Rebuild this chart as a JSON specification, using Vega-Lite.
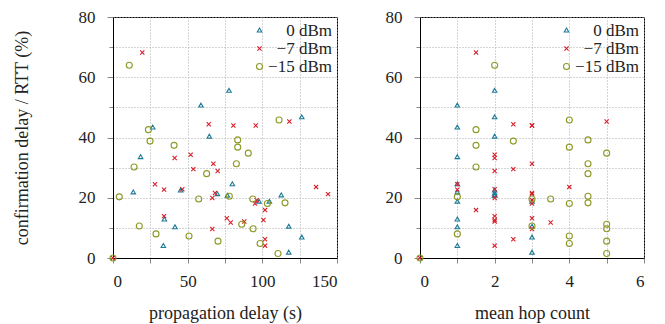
{
  "$schema": "https://vega.github.io/schema/vega-lite/v6.json",
  "padding": {"left": 12, "top": 7, "right": 2, "bottom": 0},
  "background": "white",
  "config": {
    "font": "Liberation Serif",
    "view": {"stroke": "#000", "strokeWidth": 1},
    "axis": {
      "labelFont": "Liberation Serif", "labelFontSize": 17, "labelColor": "#222",
      "titleFont": "Liberation Serif", "titleFontSize": 18, "titleFontWeight": "normal", "titleColor": "#222",
      "domainColor": "#000", "domainWidth": 1,
      "grid": true, "gridColor": "#ababab", "gridDash": [1, 2], "gridWidth": 1, "gridOpacity": 1,
      "tickColor": "#888"
    },
    "legend": {
      "labelFont": "Liberation Serif", "labelFontSize": 17, "labelColor": "#222"
    }
  },
  "datasets": {
    "delay": [
      {"power": "0 dBm", "delay": 58.9, "rtt": 50.6},
      {"power": "0 dBm", "delay": 77.7, "rtt": 55.5},
      {"power": "0 dBm", "delay": 26.6, "rtt": 43.3},
      {"power": "0 dBm", "delay": 64.5, "rtt": 40.3},
      {"power": "0 dBm", "delay": 126.4, "rtt": 46.7},
      {"power": "0 dBm", "delay": 18.5, "rtt": 33.5},
      {"power": "0 dBm", "delay": 13.6, "rtt": 21.8},
      {"power": "0 dBm", "delay": 45.3, "rtt": 22.4},
      {"power": "0 dBm", "delay": 69.9, "rtt": 21.2},
      {"power": "0 dBm", "delay": 34.4, "rtt": 12.8},
      {"power": "0 dBm", "delay": 41.5, "rtt": 10.2},
      {"power": "0 dBm", "delay": 33.7, "rtt": 4.0},
      {"power": "0 dBm", "delay": 79.9, "rtt": 24.5},
      {"power": "0 dBm", "delay": 76.6, "rtt": 20.7},
      {"power": "0 dBm", "delay": 97.8, "rtt": 18.7},
      {"power": "0 dBm", "delay": 104.7, "rtt": 18.7},
      {"power": "0 dBm", "delay": 112.7, "rtt": 20.8},
      {"power": "0 dBm", "delay": 117.7, "rtt": 10.4},
      {"power": "0 dBm", "delay": 126.4, "rtt": 6.8},
      {"power": "0 dBm", "delay": 117.7, "rtt": 1.8},
      {"power": "−7 dBm", "delay": 0, "rtt": 0},
      {"power": "−7 dBm", "delay": 19.6, "rtt": 68.2},
      {"power": "−7 dBm", "delay": 64.1, "rtt": 44.4},
      {"power": "−7 dBm", "delay": 118.1, "rtt": 45.3},
      {"power": "−7 dBm", "delay": 80.6, "rtt": 44.0},
      {"power": "−7 dBm", "delay": 95.6, "rtt": 44.0},
      {"power": "−7 dBm", "delay": 41.3, "rtt": 33.2},
      {"power": "−7 dBm", "delay": 52.0, "rtt": 34.3},
      {"power": "−7 dBm", "delay": 53.8, "rtt": 29.5},
      {"power": "−7 dBm", "delay": 67.2, "rtt": 31.3},
      {"power": "−7 dBm", "delay": 70.1, "rtt": 28.9},
      {"power": "−7 dBm", "delay": 28.1, "rtt": 24.5},
      {"power": "−7 dBm", "delay": 34.2, "rtt": 22.7},
      {"power": "−7 dBm", "delay": 46.4, "rtt": 22.8},
      {"power": "−7 dBm", "delay": 68.3, "rtt": 21.6},
      {"power": "−7 dBm", "delay": 66.5, "rtt": 19.9},
      {"power": "−7 dBm", "delay": 34.2, "rtt": 13.9},
      {"power": "−7 dBm", "delay": 66.5, "rtt": 9.6},
      {"power": "−7 dBm", "delay": 136.0, "rtt": 23.6},
      {"power": "−7 dBm", "delay": 144.0, "rtt": 21.2},
      {"power": "−7 dBm", "delay": 96.2, "rtt": 19.2},
      {"power": "−7 dBm", "delay": 95.1, "rtt": 18.1},
      {"power": "−7 dBm", "delay": 101.8, "rtt": 15.9},
      {"power": "−7 dBm", "delay": 76.2, "rtt": 13.2},
      {"power": "−7 dBm", "delay": 78.8, "rtt": 11.8},
      {"power": "−7 dBm", "delay": 87.9, "rtt": 12.1},
      {"power": "−7 dBm", "delay": 100.7, "rtt": 12.6},
      {"power": "−7 dBm", "delay": 101.8, "rtt": 6.2},
      {"power": "−7 dBm", "delay": 101.8, "rtt": 4.1},
      {"power": "−15 dBm", "delay": 0, "rtt": 0},
      {"power": "−15 dBm", "delay": 10.9, "rtt": 64.0},
      {"power": "−15 dBm", "delay": 23.7, "rtt": 42.6},
      {"power": "−15 dBm", "delay": 24.8, "rtt": 38.8},
      {"power": "−15 dBm", "delay": 40.9, "rtt": 37.4},
      {"power": "−15 dBm", "delay": 111.2, "rtt": 45.8},
      {"power": "−15 dBm", "delay": 83.5, "rtt": 39.2},
      {"power": "−15 dBm", "delay": 83.5, "rtt": 36.8},
      {"power": "−15 dBm", "delay": 90.6, "rtt": 34.8},
      {"power": "−15 dBm", "delay": 82.6, "rtt": 31.3},
      {"power": "−15 dBm", "delay": 14.1, "rtt": 30.2},
      {"power": "−15 dBm", "delay": 62.7, "rtt": 28.0},
      {"power": "−15 dBm", "delay": 4.2, "rtt": 20.3},
      {"power": "−15 dBm", "delay": 57.4, "rtt": 19.6},
      {"power": "−15 dBm", "delay": 77.9, "rtt": 20.5},
      {"power": "−15 dBm", "delay": 93.6, "rtt": 19.6},
      {"power": "−15 dBm", "delay": 103.4, "rtt": 18.1},
      {"power": "−15 dBm", "delay": 115.2, "rtt": 18.3},
      {"power": "−15 dBm", "delay": 17.6, "rtt": 10.6},
      {"power": "−15 dBm", "delay": 28.8, "rtt": 8.0},
      {"power": "−15 dBm", "delay": 50.9, "rtt": 7.3},
      {"power": "−15 dBm", "delay": 70.3, "rtt": 5.6},
      {"power": "−15 dBm", "delay": 86.2, "rtt": 11.2},
      {"power": "−15 dBm", "delay": 93.8, "rtt": 9.7},
      {"power": "−15 dBm", "delay": 98.5, "rtt": 4.8},
      {"power": "−15 dBm", "delay": 110.5, "rtt": 1.5}
    ],
    "hops": [
      {"power": "0 dBm", "hops": 1, "rtt": 50.6},
      {"power": "0 dBm", "hops": 2, "rtt": 55.5},
      {"power": "0 dBm", "hops": 1, "rtt": 43.3},
      {"power": "0 dBm", "hops": 2, "rtt": 40.3},
      {"power": "0 dBm", "hops": 2, "rtt": 46.7},
      {"power": "0 dBm", "hops": 1, "rtt": 33.5},
      {"power": "0 dBm", "hops": 1, "rtt": 21.8},
      {"power": "0 dBm", "hops": 2, "rtt": 22.4},
      {"power": "0 dBm", "hops": 2, "rtt": 21.4},
      {"power": "0 dBm", "hops": 1, "rtt": 12.8},
      {"power": "0 dBm", "hops": 1, "rtt": 10.2},
      {"power": "0 dBm", "hops": 1, "rtt": 4.0},
      {"power": "0 dBm", "hops": 1, "rtt": 24.5},
      {"power": "0 dBm", "hops": 2, "rtt": 20.7},
      {"power": "0 dBm", "hops": 1, "rtt": 18.7},
      {"power": "0 dBm", "hops": 3, "rtt": 18.7},
      {"power": "0 dBm", "hops": 2, "rtt": 20.8},
      {"power": "0 dBm", "hops": 3, "rtt": 10.4},
      {"power": "0 dBm", "hops": 3, "rtt": 6.8},
      {"power": "0 dBm", "hops": 3, "rtt": 1.8},
      {"power": "−7 dBm", "hops": 0, "rtt": 0},
      {"power": "−7 dBm", "hops": 1.5, "rtt": 68.2},
      {"power": "−7 dBm", "hops": 2.5, "rtt": 44.4},
      {"power": "−7 dBm", "hops": 5, "rtt": 45.3},
      {"power": "−7 dBm", "hops": 3, "rtt": 44.0},
      {"power": "−7 dBm", "hops": 3, "rtt": 44.0},
      {"power": "−7 dBm", "hops": 2, "rtt": 33.2},
      {"power": "−7 dBm", "hops": 2, "rtt": 34.3},
      {"power": "−7 dBm", "hops": 2.5, "rtt": 29.5},
      {"power": "−7 dBm", "hops": 3, "rtt": 31.3},
      {"power": "−7 dBm", "hops": 2, "rtt": 28.9},
      {"power": "−7 dBm", "hops": 1, "rtt": 24.5},
      {"power": "−7 dBm", "hops": 1, "rtt": 22.7},
      {"power": "−7 dBm", "hops": 2, "rtt": 22.8},
      {"power": "−7 dBm", "hops": 3, "rtt": 21.6},
      {"power": "−7 dBm", "hops": 2, "rtt": 19.9},
      {"power": "−7 dBm", "hops": 2, "rtt": 13.9},
      {"power": "−7 dBm", "hops": 3, "rtt": 9.6},
      {"power": "−7 dBm", "hops": 4, "rtt": 23.6},
      {"power": "−7 dBm", "hops": 3, "rtt": 21.2},
      {"power": "−7 dBm", "hops": 3, "rtt": 19.2},
      {"power": "−7 dBm", "hops": 3, "rtt": 18.1},
      {"power": "−7 dBm", "hops": 1.5, "rtt": 15.9},
      {"power": "−7 dBm", "hops": 3, "rtt": 13.2},
      {"power": "−7 dBm", "hops": 3.5, "rtt": 11.8},
      {"power": "−7 dBm", "hops": 2, "rtt": 12.1},
      {"power": "−7 dBm", "hops": 2, "rtt": 12.6},
      {"power": "−7 dBm", "hops": 2.5, "rtt": 6.2},
      {"power": "−7 dBm", "hops": 2, "rtt": 4.1},
      {"power": "−15 dBm", "hops": 0, "rtt": 0},
      {"power": "−15 dBm", "hops": 2, "rtt": 64.0},
      {"power": "−15 dBm", "hops": 1.5, "rtt": 42.6},
      {"power": "−15 dBm", "hops": 2.5, "rtt": 38.8},
      {"power": "−15 dBm", "hops": 1.5, "rtt": 37.4},
      {"power": "−15 dBm", "hops": 4, "rtt": 45.8},
      {"power": "−15 dBm", "hops": 4.5, "rtt": 39.2},
      {"power": "−15 dBm", "hops": 4, "rtt": 36.8},
      {"power": "−15 dBm", "hops": 5, "rtt": 34.8},
      {"power": "−15 dBm", "hops": 4.5, "rtt": 31.3},
      {"power": "−15 dBm", "hops": 1.5, "rtt": 30.2},
      {"power": "−15 dBm", "hops": 4.5, "rtt": 28.0},
      {"power": "−15 dBm", "hops": 1, "rtt": 20.3},
      {"power": "−15 dBm", "hops": 3, "rtt": 19.6},
      {"power": "−15 dBm", "hops": 4.5, "rtt": 20.5},
      {"power": "−15 dBm", "hops": 3.5, "rtt": 19.6},
      {"power": "−15 dBm", "hops": 4, "rtt": 18.1},
      {"power": "−15 dBm", "hops": 4.5, "rtt": 18.3},
      {"power": "−15 dBm", "hops": 3, "rtt": 10.6},
      {"power": "−15 dBm", "hops": 1, "rtt": 8.0},
      {"power": "−15 dBm", "hops": 4, "rtt": 7.3},
      {"power": "−15 dBm", "hops": 5, "rtt": 5.6},
      {"power": "−15 dBm", "hops": 5, "rtt": 11.2},
      {"power": "−15 dBm", "hops": 5, "rtt": 9.7},
      {"power": "−15 dBm", "hops": 4, "rtt": 4.8},
      {"power": "−15 dBm", "hops": 5, "rtt": 1.5}
    ]
  },
  "spacing": 46,
  "resolve": {"scale": {"color": "shared", "shape": "shared"}, "legend": {"color": "independent", "shape": "independent"}},
  "hconcat": [
    {
      "width": 224,
      "height": 241,
      "data": {"name": "delay"},
      "mark": {"type": "point", "filled": false, "strokeWidth": 1.1, "size": 36, "opacity": 1},
      "encoding": {
        "x": {
          "field": "delay", "type": "quantitative",
          "scale": {"domain": [0, 150], "nice": false, "zero": false},
          "axis": {
            "title": "propagation delay (s)",
            "values": [0, 25, 50, 75, 100, 125, 150],
            "labelExpr": "datum.value % 50 === 0 ? datum.label : ''",
            "tickSize": 5, "labelPadding": 10, "titlePadding": 15
          }
        },
        "y": {
          "field": "rtt", "type": "quantitative",
          "scale": {"domain": [0, 80], "nice": false, "zero": false},
          "axis": {
            "title": "confirmation delay / RTT (%)",
            "values": [0, 10, 20, 30, 40, 50, 60, 70, 80],
            "labelExpr": "datum.value % 20 === 0 ? datum.label : ''",
            "tickSize": {"condition": {"test": "datum.value % 20 === 0", "value": 6}, "value": 4},
            "labelPadding": 12, "titlePadding": 47
          }
        },
        "color": {
          "field": "power", "type": "nominal",
          "scale": {"domain": ["0 dBm", "−7 dBm", "−15 dBm"], "range": ["#1c7a97", "#d81f2a", "#8d9926"]},
          "legend": {"orient": "top-right", "title": null, "labelAlign": "right", "labelOffset": 64, "offset": 5, "padding": 0, "rowPadding": 0, "symbolSize": 36, "symbolStrokeWidth": 1.1}
        },
        "shape": {
          "field": "power", "type": "nominal",
          "scale": {"domain": ["0 dBm", "−7 dBm", "−15 dBm"], "range": ["M0,-0.8L0.75,0.5L-0.75,0.5Z", "M-0.7,-0.7L0.7,0.7M0.7,-0.7L-0.7,0.7", "circle"]},
          "legend": {"orient": "top-right", "title": null, "labelAlign": "right", "labelOffset": 64, "offset": 5, "padding": 0, "rowPadding": 0, "symbolSize": 36, "symbolStrokeWidth": 1.1}
        }
      }
    },
    {
      "width": 224,
      "height": 241,
      "data": {"name": "hops"},
      "mark": {"type": "point", "filled": false, "strokeWidth": 1.1, "size": 36, "opacity": 1},
      "encoding": {
        "x": {
          "field": "hops", "type": "quantitative",
          "scale": {"domain": [0, 6], "nice": false, "zero": false},
          "axis": {
            "title": "mean hop count",
            "values": [0, 1, 2, 3, 4, 5, 6],
            "labelExpr": "datum.value % 2 === 0 ? datum.label : ''",
            "tickSize": 5, "labelPadding": 10, "titlePadding": 15
          }
        },
        "y": {
          "field": "rtt", "type": "quantitative",
          "scale": {"domain": [0, 80], "nice": false, "zero": false},
          "axis": {
            "title": null,
            "values": [0, 10, 20, 30, 40, 50, 60, 70, 80],
            "labelExpr": "datum.value % 20 === 0 ? datum.label : ''",
            "tickSize": {"condition": {"test": "datum.value % 20 === 0", "value": 6}, "value": 4},
            "labelPadding": 12
          }
        },
        "color": {
          "field": "power", "type": "nominal",
          "scale": {"domain": ["0 dBm", "−7 dBm", "−15 dBm"], "range": ["#1c7a97", "#d81f2a", "#8d9926"]},
          "legend": {"orient": "top-right", "title": null, "labelAlign": "right", "labelOffset": 64, "offset": 5, "padding": 0, "rowPadding": 0, "symbolSize": 36, "symbolStrokeWidth": 1.1}
        },
        "shape": {
          "field": "power", "type": "nominal",
          "scale": {"domain": ["0 dBm", "−7 dBm", "−15 dBm"], "range": ["M0,-0.8L0.75,0.5L-0.75,0.5Z", "M-0.7,-0.7L0.7,0.7M0.7,-0.7L-0.7,0.7", "circle"]},
          "legend": {"orient": "top-right", "title": null, "labelAlign": "right", "labelOffset": 64, "offset": 5, "padding": 0, "rowPadding": 0, "symbolSize": 36, "symbolStrokeWidth": 1.1}
        }
      }
    }
  ]
}
